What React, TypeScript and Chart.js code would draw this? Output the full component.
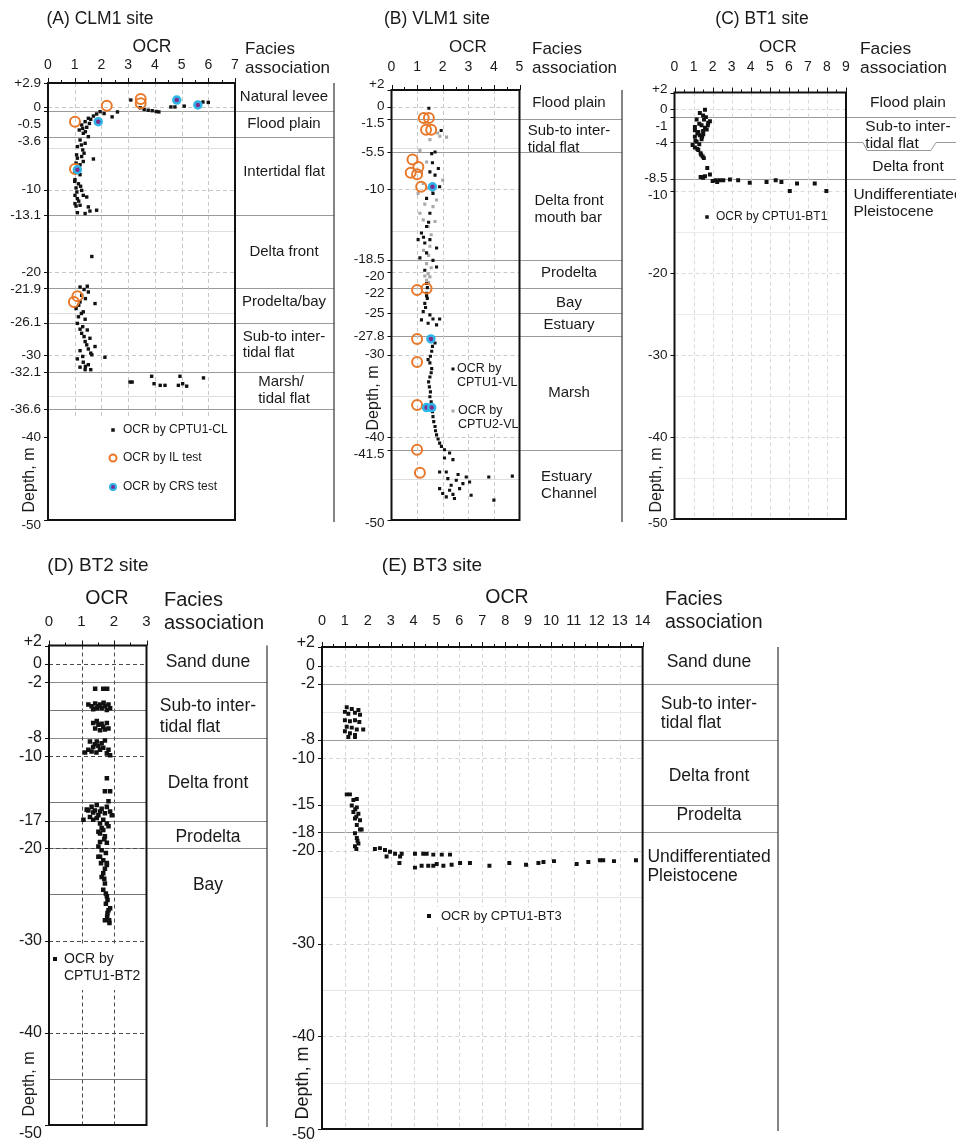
import React, { useEffect, useRef } from "react";
import { Chart, registerables } from "chart.js";
Chart.register(...registerables);

type Pt = [number, number]; // [OCR, depth m]

const FONT = '"Liberation Sans", Arial, Helvetica, sans-serif';
const INK = "#1a1a1a";
const ORANGE = "#E8782A";
const CYAN = "#2FB5E8";
const PURPLE = "#7B2E8C";
const GRAYPT = "#a9a9a9";

// ================= (A) CLM1 site =================
const clmTicks = [2.9, 0, -0.5, -3.6, -10, -13.1, -20, -21.9, -26.1, -30, -32.1, -36.6, -40, -50];
const clmBounds = [-0.5, -3.6, -13.1, -21.9, -26.1, -32.1, -36.6];
const clmFacies = ["Natural levee", "Flood plain", "Intertidal flat", "Delta front", "Prodelta/bay", "Sub-to inter-\ntidal flat", "Marsh/\ntidal flat"];
const clmFaciesAt = [1.2, -2.05, -7.9, -17.6, -23.6, -28.8, -34.3];
const clmCptu: Pt[] = [
  [3.1, 0.84], [3.45, -0.1], [3.6, -0.3], [3.75, -0.4], [3.9, -0.45], [4.05, -0.55], [4.15, -0.6], [4.6, 0.0], [4.75, 0.0], [5.1, 0.1], [5.8, 0.6], [6.0, 0.55], [2.6, -0.6], [2.4, -1.2],
  [1.95, -0.57], [2.1, -0.8], [1.82, -0.85], [1.7, -1.1], [1.51, -1.37], [1.6, -1.5], [1.39, -1.78], [1.26, -2.18], [1.45, -2.46], [1.17, -2.79], [1.32, -3.19], [1.51, -3.6], [1.2, -4.0], [1.39, -4.4], [1.1, -4.8], [1.3, -5.2], [1.07, -5.8], [1.26, -6.0], [1.7, -6.3], [1.05, -6.8], [1.32, -6.6], [1.15, -7.2], [1.01, -7.8], [1.2, -8.2], [1.01, -8.8], [1.14, -9.3], [1.05, -9.8], [1.26, -10.1], [1.01, -10.7], [1.32, -10.7], [1.1, -11.1], [1.45, -10.9], [1.01, -11.7], [1.51, -12.1], [1.2, -11.9], [1.1, -12.8], [1.82, -12.5], [1.57, -12.6], [1.39, -12.9], [1.05, -12.0], [1.15, -11.4], [1.0, -9.0], [1.08, -10.3], [1.22, -9.6], [1.35, -5.6], [1.25, -4.6], [1.4, -3.0], [1.55, -2.0], [1.3, -2.6], [1.1, -6.2], [1.2, -7.0],
  [1.64, -18.1],
  [1.47, -21.7], [1.2, -21.8], [1.51, -22.4], [1.26, -22.8], [1.76, -23.8], [1.2, -23.6], [1.05, -24.4], [1.32, -24.8], [1.14, -25.4], [1.39, -25.7], [1.1, -26.2], [1.3, -26.6], [1.47, -27.0], [1.26, -27.4], [1.57, -28.0], [1.39, -28.4], [1.76, -29.0], [1.51, -29.3], [1.2, -29.5], [1.64, -30.0], [2.13, -30.3], [1.1, -30.5], [1.32, -30.9], [1.51, -31.2], [1.2, -31.5], [1.6, -31.8], [1.39, -31.8], [1.15, -24.0], [1.25, -25.0], [1.2, -26.9], [1.35, -27.8], [1.45, -28.8], [1.3, -30.2], [1.4, -31.4], [1.6, -29.8], [1.35, -22.1], [1.4, -23.2],
  [3.07, -33.3], [3.15, -33.3], [3.88, -32.6], [3.97, -33.5], [4.38, -33.7], [4.2, -33.7], [4.94, -32.6], [4.88, -33.7], [5.04, -33.5], [5.19, -33.8], [5.82, -32.8],
];
const clmIL: Pt[] = [[2.2, 0.15], [3.47, 0.96], [3.47, 0.44], [1.01, -1.78], [1.01, -7.5], [1.1, -22.9], [0.97, -23.6]];
const clmCRS: Pt[] = [[4.82, 0.84], [5.61, 0.24], [1.88, -1.78], [1.1, -7.6]];

// ================= (B) VLM1 site =================
const vlmTicks = [2, 0, -1.5, -5.5, -10, -18.5, -20, -22, -25, -27.8, -30, -40, -41.5, -50];
const vlmBounds = [-1.5, -5.5, -18.5, -22, -25, -27.8, -41.5];
const vlmFacies = ["Flood plain", "Sub-to inter-\ntidal flat", "Delta front\nmouth bar", "Prodelta", "Bay", "Estuary", "Marsh", "Estuary\nChannel"];
const vlmFaciesAt = [0.4, -4.0, -12.4, -20.1, -23.8, -26.4, -34.6, -45.8];
const vlmCptu1: Pt[] = [
  [1.46, -0.2], [1.94, -2.9], [1.7, -5.5], [1.57, -5.7], [1.83, -7.5], [1.5, -7.9], [1.7, -8.3], [1.88, -9.7], [1.62, -10.5], [1.37, -11.1], [1.5, -12.9], [1.37, -14.5], [1.17, -15.3], [1.5, -16.1], [1.04, -16.1], [1.3, -16.5], [1.76, -17.1], [1.37, -17.7], [1.11, -18.3], [1.62, -18.6], [1.76, -19.4], [1.3, -19.8], [1.6, -6.8], [1.45, -14.0], [1.25, -15.8],
  [1.37, -21.4], [1.37, -22.6], [1.3, -23.8], [1.24, -24.8], [1.5, -25.2], [1.17, -25.8], [1.62, -25.7], [1.88, -25.7], [1.43, -26.2], [1.76, -26.4], [1.5, -27.9], [1.7, -28.6], [1.57, -29.6], [1.43, -30.6], [1.57, -31.7], [1.5, -32.7], [1.48, -33.9], [1.5, -35.1], [1.57, -36.3], [1.62, -37.5], [1.7, -38.7], [1.76, -39.7], [1.88, -40.7], [2.07, -41.5], [2.27, -41.9], [2.4, -42.7], [2.07, -42.5],
  [1.45, -28.2], [1.6, -29.0], [1.52, -30.2], [1.5, -31.0], [1.55, -32.2], [1.45, -33.3], [1.52, -34.5], [1.55, -35.7], [1.6, -36.9], [1.65, -38.1], [1.72, -39.2], [1.82, -40.2], [1.95, -41.1], [1.4, -23.2], [1.33, -24.3], [1.4, -21.9], [1.37, -22.9],
  [1.88, -44.2], [2.14, -44.2], [2.92, -44.8], [2.53, -45.2], [3.05, -45.4], [1.88, -46.2], [2.27, -46.4], [2.66, -46.2], [2.14, -47.2], [2.46, -47.4], [3.11, -47.0], [2.79, -45.6], [3.8, -44.8], [4.0, -47.6], [4.72, -44.7], [2.33, -45.8], [2.0, -46.8], [2.2, -45.0], [2.6, -44.5], [2.4, -46.9],
];
const vlmCptu2: Pt[] = [
  [2.15, -3.7], [1.89, -3.6], [1.5, -4.0], [1.11, -5.3], [1.37, -6.7], [1.17, -7.9], [1.04, -10.5], [1.37, -9.9], [1.76, -11.3], [1.11, -12.9], [1.62, -12.1], [1.24, -13.7], [1.7, -13.9], [1.43, -14.5], [1.5, -16.9], [1.37, -19.0], [1.43, -20.2], [1.37, -21.0], [1.5, -20.6], [2.0, -8.9], [1.24, -9.3], [1.8, -3.2], [1.6, -10.2], [1.3, -11.8], [1.55, -15.5], [1.25, -17.4], [1.45, -18.0], [1.55, -19.5], [1.3, -20.5], [1.45, -21.3],
];
const vlmIL: Pt[] = [[1.26, -1.4], [1.46, -1.4], [1.35, -2.8], [1.55, -2.8], [0.82, -6.4], [1.05, -7.3], [0.75, -8.0], [1.0, -8.2], [1.16, -9.7], [1.0, -22.2], [1.37, -22.0], [1.0, -28.1], [1.0, -30.9], [1.0, -36.1], [1.0, -41.5], [1.11, -44.3]];
const vlmCRS: Pt[] = [[1.6, -9.7], [1.54, -28.1], [1.37, -36.4], [1.57, -36.4]];

// ================= (C) BT1 site =================
const bt1Ticks = [2, 0, -1, -4, -8.5, -10, -20, -30, -40, -50];
const bt1Bounds = [-1, -4, -8.5];
const bt1Facies = ["Flood plain", "Sub-to inter-\ntidal flat", "Delta front", "Undifferentiated\nPleistocene"];
const bt1FaciesAt = [0.7, -3.2, -7.0, -11.5];
const bt1Cptu: Pt[] = [
  [1.6, -0.1], [1.33, -0.5], [1.65, -1.0], [1.16, -1.3], [1.77, -1.7], [1.42, -2.0], [1.07, -2.2], [1.69, -2.5], [1.25, -2.8], [1.51, -3.1], [1.07, -3.4], [1.42, -3.7], [1.16, -4.0], [0.95, -4.4], [1.07, -4.7], [1.25, -5.0], [1.37, -5.4], [1.48, -5.8], [1.54, -6.0], [1.86, -1.5], [1.07, -2.6], [1.33, -3.2],
  [1.5, -0.8], [1.3, -1.8], [1.6, -2.3], [1.2, -3.0], [1.45, -3.4], [1.1, -3.9], [1.3, -4.3], [1.2, -4.9], [1.4, -5.6], [1.55, -1.3], [1.75, -2.0], [1.5, -2.7],
  [1.72, -7.2], [1.37, -8.3], [1.6, -8.2], [1.86, -8.0], [2.17, -8.7], [2.38, -8.7], [2.91, -8.6], [3.34, -8.7], [3.95, -9.0], [4.83, -8.9], [5.31, -8.7], [5.61, -8.9], [6.43, -9.1], [7.36, -9.1], [6.05, -10.0], [7.97, -10.0], [1.42, -8.3], [2.24, -8.9], [2.56, -8.7], [1.5, -8.4], [2.0, -8.8],
];

// ================= (D) BT2 site =================
const bt2Ticks = [2, 0, -2, -8, -10, -17, -20, -30, -40, -50];
const bt2Bounds = [-2, -8, -17, -20];
const bt2Facies = ["Sand dune", "Sub-to inter-\ntidal flat", "Delta front", "Prodelta", "Bay"];
const bt2FaciesAt = [0.2, -5.7, -12.9, -18.8, -24.0];
const bt2Cptu: Pt[] = [
  [1.42, -2.7], [1.67, -2.7], [1.79, -2.7],
  [1.21, -4.4], [1.31, -4.6], [1.42, -4.3], [1.47, -4.8], [1.57, -4.4], [1.62, -4.8], [1.72, -4.6], [1.83, -4.4], [1.88, -4.8], [1.52, -4.6], [1.68, -4.2], [1.78, -5.0], [1.36, -4.9],
  [1.36, -6.4], [1.52, -6.6], [1.67, -6.8], [1.78, -6.4], [1.42, -7.0], [1.57, -7.2], [1.72, -7.1], [1.47, -6.2], [1.62, -6.5], [1.83, -7.0],
  [1.26, -8.4], [1.47, -8.4], [1.62, -8.6], [1.36, -9.0], [1.52, -8.9], [1.67, -9.1], [1.21, -9.3], [1.11, -9.6], [1.57, -9.3], [1.78, -9.7], [1.88, -9.9], [1.83, -9.3], [1.41, -8.7], [1.31, -9.5], [1.72, -8.3], [1.46, -9.6],
  [1.78, -12.4], [1.72, -13.8], [1.88, -13.8], [1.83, -14.9],
  [1.31, -15.5], [1.47, -15.3], [1.62, -15.7], [1.78, -15.5], [1.16, -15.8], [1.36, -16.1], [1.57, -16.0], [1.72, -16.2], [1.26, -16.6], [1.47, -16.7], [1.06, -16.9], [1.67, -16.9], [1.88, -16.0], [1.93, -16.4], [1.57, -17.3], [1.78, -17.3], [1.67, -18.0], [1.83, -17.6], [1.52, -18.2], [1.72, -18.7], [1.57, -19.3], [1.78, -19.4], [1.62, -20.2], [1.75, -20.5], [1.52, -20.9], [1.67, -21.3], [1.78, -21.8],
  [1.57, -18.4], [1.52, -19.8], [1.57, -20.9], [1.78, -21.6], [1.67, -22.7], [1.72, -23.8], [1.67, -24.5], [1.78, -25.2], [1.75, -26.0], [1.83, -26.7], [1.79, -27.4], [1.86, -28.1], [1.62, -23.1], [1.72, -22.2], [1.88, -26.5], [1.72, -27.8],
  [1.21, -15.9], [1.41, -15.9], [1.52, -16.4], [1.36, -16.9], [1.62, -17.8], [1.7, -19.0], [1.6, -21.6], [1.7, -23.3], [1.75, -24.9], [1.8, -25.6], [1.8, -27.0], [1.85, -27.8],
];

// ================= (E) BT3 site =================
const bt3Ticks = [2, 0, -2, -8, -10, -15, -18, -20, -30, -40, -50];
const bt3Bounds = [-2, -8, -15, -18];
const bt3Facies = ["Sand dune", "Sub-to inter-\ntidal flat", "Delta front", "Prodelta", "Undifferentiated\nPleistocene"];
const bt3FaciesAt = [0.4, -5.2, -11.9, -16.1, -21.7];
const bt3Cptu: Pt[] = [
  [1.08, -4.5], [1.3, -4.7], [1.59, -4.8], [1.0, -5.0], [1.44, -5.1], [1.15, -5.2], [1.66, -5.3],
  [1.0, -5.9], [1.22, -6.0], [1.44, -5.9], [1.63, -6.1],
  [1.08, -6.6], [1.3, -6.7], [1.52, -6.9], [1.8, -6.9], [1.0, -7.1], [1.22, -7.3], [1.44, -7.5], [1.15, -7.7], [1.44, -7.7],
  [1.08, -13.9], [1.22, -13.9],
  [1.37, -14.5], [1.52, -14.4], [1.3, -15.1], [1.52, -15.3], [1.37, -15.8], [1.59, -16.0], [1.44, -16.5], [1.66, -16.7], [1.52, -17.2], [1.66, -17.7], [1.44, -18.1], [1.73, -17.7], [1.52, -18.6], [1.59, -19.2], [1.44, -19.5], [1.45, -15.5], [1.5, -16.3], [1.55, -18.9], [1.5, -19.8],
  [2.31, -19.8], [2.53, -19.7], [2.75, -19.9], [2.97, -20.1], [3.19, -20.3], [3.48, -20.3], [3.41, -20.6], [4.06, -20.3], [4.42, -20.3], [4.57, -20.3], [4.86, -20.4], [5.23, -20.4], [5.59, -20.4], [2.82, -20.6],
  [3.38, -21.3], [4.06, -21.8], [4.35, -21.6], [4.64, -21.6], [4.86, -21.6], [5.01, -21.4], [5.3, -21.6], [5.66, -21.5], [6.03, -21.3], [6.46, -21.3], [7.31, -21.6], [8.18, -21.3], [8.91, -21.5], [9.45, -21.3], [9.67, -21.2], [10.13, -21.1], [11.12, -21.4], [11.63, -21.2], [12.14, -21.0], [12.28, -21.0], [12.75, -21.1], [13.71, -21.0],
];

// ================= layout =================
type Kind = "sq" | "sqGray" | "il" | "crs";
type Series = { pts: Pt[]; kind: Kind; r?: number };
type LegendItem = { kind: Kind; x: number; y: number; tx: number; lines: string[] };
type Rect = { x: number; y: number; w: number; h: number };

interface Panel {
  key: string;
  box: Rect;
  area: { l: number; t: number; r: number; b: number };
  xMax: number;
  yMax: number;
  yTicks: number[];
  bounds: number[];
  facies: string[];
  faciesAt: number[];
  colRight: number;
  colBorder: boolean;
  colCenter: number;
  title: string;
  titlePos: [number, number];
  titleSize: number;
  ocrPos: [number, number];
  ocrSize: number;
  tickY: number;
  xTickSize: number;
  faciesHdr: [number, number, number];
  faciesHdrSize: number;
  depthPos: [number, number];
  depthSize: number;
  yTickSize: number;
  yGap: number;
  yEnds: [number, number];
  faciesSize: number;
  faciesLine: number;
  series: Series[];
  legend: LegendItem[];
  legendBox: Rect;
  legendSize: number;
  legendLine: number;
  legendSq: number;
  gridColor: string;
  gridSolid: string;
  faciesColor: string;
  bracket?: { index: number; xs: number[]; drop: number };
}

const PANELS: Panel[] = [
  {
    key: "A", box: { x: 0, y: 0, w: 336, h: 545 }, area: { l: 48, t: 83, r: 235, b: 520 },
    xMax: 7, yMax: 2.9, yTicks: clmTicks, bounds: clmBounds, facies: clmFacies, faciesAt: clmFaciesAt,
    colRight: 334, colBorder: true, colCenter: 284,
    title: "(A) CLM1 site", titlePos: [100, 19], titleSize: 17.5,
    ocrPos: [152, 47], ocrSize: 17.5, tickY: 65, xTickSize: 14,
    faciesHdr: [245, 49, 68], faciesHdrSize: 17, depthPos: [30, 480], depthSize: 16,
    yTickSize: 13.5, yGap: 17, yEnds: [0, 5], faciesSize: 15, faciesLine: 16.5,
    series: [{ pts: clmCptu, kind: "sq", r: 2.4 }, { pts: clmIL, kind: "il" }, { pts: clmCRS, kind: "crs" }],
    legend: [
      { kind: "sq", x: 113, y: 430, tx: 123, lines: ["OCR by CPTU1-CL"] },
      { kind: "il", x: 113, y: 458, tx: 123, lines: ["OCR by IL test"] },
      { kind: "crs", x: 113, y: 487, tx: 123, lines: ["OCR by CRS test"] },
    ],
    legendBox: { x: 49, y: 416, w: 185, h: 103 }, legendSize: 12, legendLine: 13, legendSq: 3.5,
    gridColor: "#c8c8c8", gridSolid: "#dedede", faciesColor: "#9a9a9a",
  },
  {
    key: "B", box: { x: 336, y: 0, w: 290, h: 545 }, area: { l: 391.5, t: 90, r: 519.5, b: 520 },
    xMax: 5, yMax: 2, yTicks: vlmTicks, bounds: vlmBounds, facies: vlmFacies, faciesAt: vlmFaciesAt,
    colRight: 622, colBorder: true, colCenter: 569,
    title: "(B) VLM1 site", titlePos: [437, 19], titleSize: 17.5,
    ocrPos: [468, 47], ocrSize: 17, tickY: 67, xTickSize: 14,
    faciesHdr: [532, 49, 68], faciesHdrSize: 17, depthPos: [374, 398], depthSize: 16,
    yTickSize: 13.5, yGap: 17, yEnds: [-6, 3], faciesSize: 15, faciesLine: 17,
    series: [{ pts: vlmCptu2, kind: "sqGray", r: 2.2 }, { pts: vlmCptu1, kind: "sq", r: 2.2 }, { pts: vlmIL, kind: "il" }, { pts: vlmCRS, kind: "crs" }],
    legend: [
      { kind: "sq", x: 453, y: 369, tx: 457, lines: ["OCR by", "CPTU1-VL"] },
      { kind: "sqGray", x: 453, y: 411, tx: 458, lines: ["OCR by", "CPTU2-VL"] },
    ],
    legendBox: { x: 449, y: 360, w: 70, h: 74 }, legendSize: 12.5, legendLine: 13.5, legendSq: 3,
    gridColor: "#c8c8c8", gridSolid: "#dedede", faciesColor: "#9a9a9a",
  },
  {
    key: "C", box: { x: 626, y: 0, w: 330, h: 545 }, area: { l: 674.5, t: 92.5, r: 846, b: 519 },
    xMax: 9, yMax: 2, yTicks: bt1Ticks, bounds: bt1Bounds, facies: bt1Facies, faciesAt: bt1FaciesAt,
    colRight: 956, colBorder: false, colCenter: 908,
    title: "(C) BT1 site", titlePos: [762, 19], titleSize: 17.5,
    ocrPos: [778, 47], ocrSize: 17, tickY: 67, xTickSize: 14,
    faciesHdr: [860, 49, 68], faciesHdrSize: 17.4, depthPos: [657, 480], depthSize: 16,
    yTickSize: 13.5, yGap: 17, yEnds: [-3, 4], faciesSize: 15.5, faciesLine: 17,
    series: [{ pts: bt1Cptu, kind: "sq", r: 2.8 }],
    legend: [{ kind: "sq", x: 707, y: 217, tx: 716, lines: ["OCR by CPTU1-BT1"] }],
    legendBox: { x: 702, y: 209, w: 120, h: 16 }, legendSize: 12, legendLine: 13, legendSq: 3.5,
    gridColor: "#dadada", gridSolid: "#ebebeb", faciesColor: "#9a9a9a",
    bracket: { index: 1, xs: [863, 867, 931, 936], drop: 8 },
  },
  {
    key: "D", box: { x: 0, y: 545, w: 275, h: 597 }, area: { l: 49, t: 645.5, r: 146.5, b: 1125 },
    xMax: 3, yMax: 2, yTicks: bt2Ticks, bounds: bt2Bounds, facies: bt2Facies, faciesAt: bt2FaciesAt,
    colRight: 267, colBorder: true, colCenter: 208,
    title: "(D) BT2 site", titlePos: [98, 566], titleSize: 19,
    ocrPos: [107, 599], ocrSize: 19.5, tickY: 622, xTickSize: 15,
    faciesHdr: [164, 600, 623], faciesHdrSize: 20, depthPos: [30, 1084], depthSize: 16,
    yTickSize: 16, yGap: 18, yEnds: [-4, 9], faciesSize: 17.5, faciesLine: 20.5,
    series: [{ pts: bt2Cptu, kind: "sq", r: 3.2 }],
    legend: [{ kind: "sq", x: 55, y: 959, tx: 64, lines: ["OCR by", "CPTU1-BT2"] }],
    legendBox: { x: 50, y: 944, w: 96, h: 46 }, legendSize: 14, legendLine: 17, legendSq: 4,
    gridColor: "#4a4a4a", gridSolid: "#777777", faciesColor: "#8a8a8a",
  },
  {
    key: "E", box: { x: 275, y: 545, w: 510, h: 597 }, area: { l: 322, t: 647, r: 642.6, b: 1129 },
    xMax: 14, yMax: 2, yTicks: bt3Ticks, bounds: bt3Bounds, facies: bt3Facies, faciesAt: bt3FaciesAt,
    colRight: 778, colBorder: true, colCenter: 709,
    title: "(E) BT3 site", titlePos: [432, 566], titleSize: 19,
    ocrPos: [507, 598], ocrSize: 19.5, tickY: 621, xTickSize: 14.5,
    faciesHdr: [665, 600, 623], faciesHdrSize: 19.5, depthPos: [303, 1083], depthSize: 18,
    yTickSize: 16, yGap: 18, yEnds: [-4, 6], faciesSize: 17.5, faciesLine: 18.5,
    series: [{ pts: bt3Cptu, kind: "sq", r: 2.8 }],
    legend: [{ kind: "sq", x: 429, y: 916, tx: 441, lines: ["OCR by CPTU1-BT3"] }],
    legendBox: { x: 424, y: 907, w: 140, h: 18 }, legendSize: 13, legendLine: 14, legendSq: 4,
    gridColor: "#d6d6d6", gridSolid: "#e6e6e6", faciesColor: "#9a9a9a",
  },
];

function toDataset(s: Series) {
  const data = s.pts.map(([x, y]) => ({ x, y }));
  if (s.kind === "sq" || s.kind === "sqGray") {
    const c = s.kind === "sq" ? "#111111" : GRAYPT;
    return { data, showLine: false, pointStyle: "rect", pointRadius: s.r || 2.4, pointBackgroundColor: c, pointBorderColor: c, pointBorderWidth: 0 };
  }
  if (s.kind === "il") {
    return { data, showLine: false, pointStyle: "circle", pointRadius: 5, pointBackgroundColor: "rgba(255,255,255,0)", pointBorderColor: ORANGE, pointBorderWidth: 2 };
  }
  return { data, showLine: false, pointStyle: "circle", pointRadius: 3.5, pointBackgroundColor: PURPLE, pointBorderColor: CYAN, pointBorderWidth: 2.5 };
}

// push tick labels downwards so they never overlap; shift the end labels outwards
function placeLabels(ys: number[], gap: number, ends: [number, number]) {
  const out = ys.slice();
  out[0] += ends[0];
  for (let i = 1; i < out.length; i++) {
    if (out[i] < out[i - 1] + gap) out[i] = out[i - 1] + gap;
  }
  out[out.length - 1] += ends[1];
  return out;
}

function seg(ctx: CanvasRenderingContext2D, x1: number, y1: number, x2: number, y2: number) {
  ctx.beginPath();
  ctx.moveTo(x1, y1);
  ctx.lineTo(x2, y2);
  ctx.stroke();
}

function txt(ctx: CanvasRenderingContext2D, s: string, x: number, y: number, size: number, align: CanvasTextAlign = "left") {
  ctx.font = `${size}px ${FONT}`;
  ctx.fillStyle = INK;
  ctx.textAlign = align;
  ctx.textBaseline = "middle";
  ctx.fillText(s, x, y);
}

function fmtTick(v: number) {
  return v > 0 ? "+" + v : String(v);
}

function decor(p: Panel) {
  const ox = p.box.x;
  const oy = p.box.y;
  return {
    id: "decor" + p.key,
    beforeDatasetsDraw(chart: any) {
      const ctx: CanvasRenderingContext2D = chart.ctx;
      const a = chart.chartArea;
      const xs = chart.scales.x;
      const ys = chart.scales.y;
      ctx.save();
      // facies boundaries
      ctx.lineWidth = 1;
      ctx.setLineDash([]);
      ctx.strokeStyle = p.faciesColor;
      p.bounds.forEach((b, i) => {
        const y = Math.round(ys.getPixelForValue(b)) + 0.5;
        ctx.beginPath();
        ctx.moveTo(a.left, y);
        if (p.bracket && p.bracket.index === i) {
          const [b1, b2, b3, b4] = p.bracket.xs.map((v) => v - ox);
          const d = p.bracket.drop;
          ctx.lineTo(b1, y);
          ctx.lineTo(b2, y + d);
          ctx.lineTo(b3, y + d);
          ctx.lineTo(b4, y);
        }
        ctx.lineTo(p.colRight - ox, y);
        ctx.stroke();
      });
      // vertical grid
      ctx.strokeStyle = p.gridColor;
      ctx.setLineDash([4, 3]);
      for (let v = 1; v < p.xMax; v++) {
        const x = Math.round(xs.getPixelForValue(v)) + 0.5;
        seg(ctx, x, a.top, x, a.bottom);
      }
      // horizontal grid every 5 m
      for (let v = 0; v > -50; v -= 5) {
        const y = Math.round(ys.getPixelForValue(v)) + 0.5;
        if (v % 10 === 0) {
          ctx.strokeStyle = p.gridColor;
          ctx.setLineDash([4, 3]);
        } else {
          ctx.strokeStyle = p.gridSolid;
          ctx.setLineDash([]);
        }
        seg(ctx, a.left, y, a.right, y);
      }
      ctx.setLineDash([]);
      // legend
      const lb = p.legendBox;
      ctx.fillStyle = "#ffffff";
      ctx.fillRect(lb.x - ox, lb.y - oy, lb.w, lb.h);
      p.legend.forEach((it) => {
        const mx = it.x - ox;
        const my = it.y - oy;
        if (it.kind === "sq" || it.kind === "sqGray") {
          ctx.fillStyle = it.kind === "sq" ? "#111" : GRAYPT;
          const s = p.legendSq;
          ctx.fillRect(mx - s / 2, my - s / 2, s, s);
        } else if (it.kind === "il") {
          ctx.strokeStyle = ORANGE;
          ctx.lineWidth = 2;
          ctx.beginPath();
          ctx.arc(mx, my, 3.5, 0, Math.PI * 2);
          ctx.stroke();
        } else {
          ctx.fillStyle = PURPLE;
          ctx.strokeStyle = CYAN;
          ctx.lineWidth = 2;
          ctx.beginPath();
          ctx.arc(mx, my, 3, 0, Math.PI * 2);
          ctx.fill();
          ctx.stroke();
        }
        it.lines.forEach((ln, k) => txt(ctx, ln, it.tx - ox, my + k * p.legendLine, p.legendSize));
      });
      ctx.restore();
    },
    afterDraw(chart: any) {
      const ctx: CanvasRenderingContext2D = chart.ctx;
      const a = chart.chartArea;
      const xs = chart.scales.x;
      const ys = chart.scales.y;
      ctx.save();
      // facies column border
      if (p.colBorder) {
        ctx.strokeStyle = "#333";
        ctx.lineWidth = 1.2;
        const cx = p.colRight - ox;
        seg(ctx, cx, a.top, cx, a.bottom + 2);
      }
      // frame
      ctx.strokeStyle = "#111";
      ctx.lineWidth = 2;
      ctx.strokeRect(a.left, a.top, a.right - a.left, a.bottom - a.top);
      // top ticks
      ctx.lineWidth = 1;
      for (let v = 0; v <= p.xMax + 0.001; v += 0.5) {
        const x = Math.round(xs.getPixelForValue(v)) + 0.5;
        const len = Math.abs(v - Math.round(v)) < 0.01 ? 5 : 3;
        seg(ctx, x, a.top, x, a.top - len);
      }
      // x tick labels
      for (let v = 0; v <= p.xMax; v++) {
        txt(ctx, String(v), xs.getPixelForValue(v), p.tickY - oy, p.xTickSize, "center");
      }
      // y ticks
      const raw = p.yTicks.map((v) => ys.getPixelForValue(v));
      const pos = placeLabels(raw, p.yGap, p.yEnds);
      p.yTicks.forEach((v, i) => {
        const y = Math.round(raw[i]) + 0.5;
        ctx.strokeStyle = "#111";
        seg(ctx, a.left - 4, y, a.left, y);
        txt(ctx, fmtTick(v), a.left - 7, pos[i], p.yTickSize, "right");
      });
      // facies labels
      p.facies.forEach((name, i) => {
        const yc = ys.getPixelForValue(p.faciesAt[i]);
        const lines = name.split("\n");
        const cx = p.colCenter - ox;
        ctx.font = `${p.faciesSize}px ${FONT}`;
        if (lines.length === 1) {
          txt(ctx, name, cx, yc, p.faciesSize, "center");
        } else {
          const w = Math.max(...lines.map((l) => ctx.measureText(l).width));
          const left = cx - w / 2;
          lines.forEach((l, k) => txt(ctx, l, left, yc + (k - (lines.length - 1) / 2) * p.faciesLine, p.faciesSize, "left"));
        }
      });
      // headers
      txt(ctx, p.title, p.titlePos[0] - ox, p.titlePos[1] - oy, p.titleSize, "center");
      txt(ctx, "OCR", p.ocrPos[0] - ox, p.ocrPos[1] - oy, p.ocrSize, "center");
      txt(ctx, "Facies", p.faciesHdr[0] - ox, p.faciesHdr[1] - oy, p.faciesHdrSize, "left");
      txt(ctx, "association", p.faciesHdr[0] - ox, p.faciesHdr[2] - oy, p.faciesHdrSize, "left");
      // depth title
      ctx.save();
      ctx.translate(p.depthPos[0] - ox, p.depthPos[1] - oy);
      ctx.rotate(-Math.PI / 2);
      txt(ctx, "Depth, m", 0, 0, p.depthSize, "center");
      ctx.restore();
      ctx.restore();
    },
  };
}

function PanelChart({ p }: { p: Panel }) {
  const ref = useRef<HTMLCanvasElement | null>(null);
  useEffect(() => {
    const cv = ref.current;
    if (!cv) return;
    const chart = new Chart(cv, {
      type: "scatter",
      data: { datasets: p.series.slice().reverse().map(toDataset) as any },
      options: {
        animation: false,
        responsive: false,
        devicePixelRatio: 1,
        events: [],
        layout: {
          padding: {
            left: p.area.l - p.box.x,
            top: p.area.t - p.box.y,
            right: p.box.x + p.box.w - p.area.r,
            bottom: p.box.y + p.box.h - p.area.b,
          },
        },
        plugins: { legend: { display: false }, tooltip: { enabled: false }, title: { display: false } },
        scales: {
          x: { type: "linear", display: false, min: 0, max: p.xMax },
          y: { type: "linear", display: false, min: -50, max: p.yMax },
        },
      } as any,
      plugins: [decor(p)],
    });
    return () => chart.destroy();
  }, [p]);
  return (
    <canvas
      ref={ref}
      width={p.box.w}
      height={p.box.h}
      style={{ position: "absolute", left: p.box.x, top: p.box.y, width: p.box.w, height: p.box.h }}
    />
  );
}

export default function App() {
  return (
    <div style={{ position: "absolute", left: 0, top: 0, width: 956, height: 1142, background: "#fff", overflow: "hidden" }}>
      {PANELS.map((p) => (
        <PanelChart key={p.key} p={p} />
      ))}
    </div>
  );
}
